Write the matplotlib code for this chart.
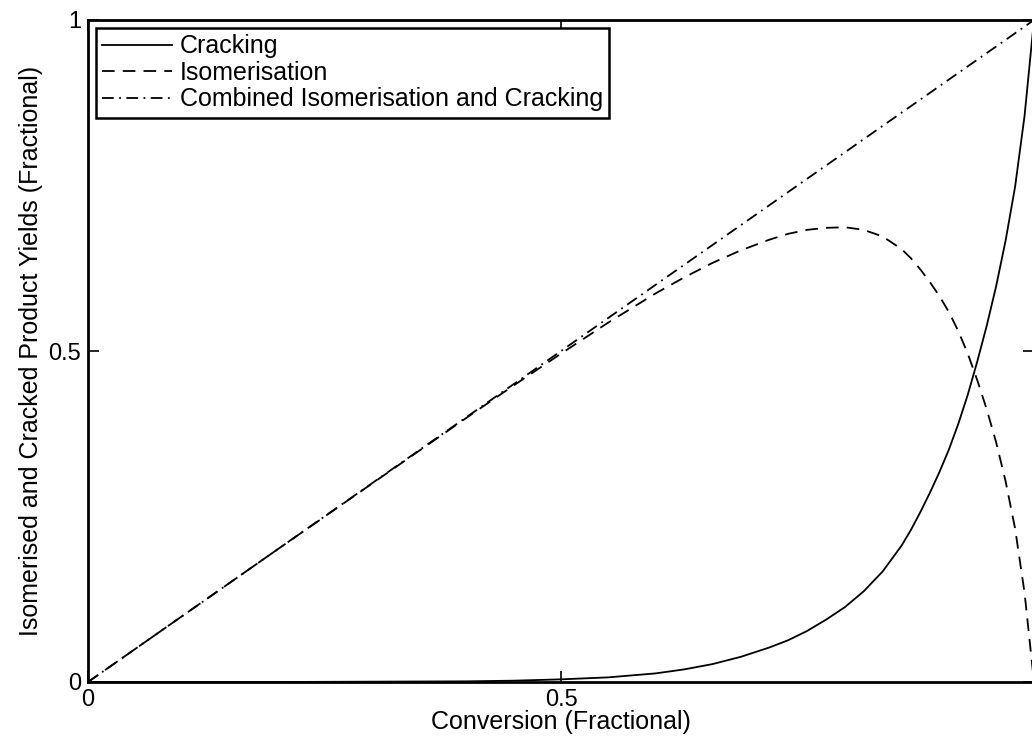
import matplotlib.pyplot as plt

plt.rcParams['font.family'] = ['Liberation Sans', 'DejaVu Sans']

# conversion values and product yields (fractional)
conversion = [0.0, 0.1, 0.2, 0.3, 0.4, 0.45, 0.5, 0.55, 0.6, 0.63, 0.66, 0.69,
              0.72, 0.74, 0.76, 0.78, 0.8, 0.82, 0.84, 0.86, 0.87, 0.88, 0.89,
              0.9, 0.91, 0.92, 0.93, 0.94, 0.95, 0.96, 0.97, 0.98, 0.99, 1.0]
cracking = [0.0, 0.0, 0.0, 0.0005, 0.001, 0.002, 0.004, 0.007, 0.013, 0.019,
            0.027, 0.038, 0.052, 0.063, 0.077, 0.094, 0.113, 0.137, 0.167,
            0.206, 0.23, 0.257, 0.286, 0.317, 0.351, 0.39, 0.434, 0.484,
            0.538, 0.598, 0.667, 0.748, 0.855, 1.0]
isomerisation = [0.0, 0.1, 0.2, 0.2995, 0.399, 0.448, 0.496, 0.543, 0.587,
                 0.611, 0.633, 0.652, 0.668, 0.677, 0.683, 0.686, 0.687,
                 0.683, 0.673, 0.654, 0.64, 0.623, 0.604, 0.583, 0.559, 0.53,
                 0.496, 0.456, 0.412, 0.362, 0.303, 0.232, 0.135, 0.0]
combined = [0.0, 0.1, 0.2, 0.3, 0.4, 0.45, 0.5, 0.55, 0.6, 0.63, 0.66, 0.69,
            0.72, 0.74, 0.76, 0.78, 0.8, 0.82, 0.84, 0.86, 0.87, 0.88, 0.89,
            0.9, 0.91, 0.92, 0.93, 0.94, 0.95, 0.96, 0.97, 0.98, 0.99, 1.0]

fig = plt.figure(figsize=(10.32, 7.38), dpi=100)
ax = fig.add_axes([88 / 1032, 56 / 738, 946 / 1032, 662 / 738])

lw = 1.3
ax.plot(conversion, cracking, color='black', linestyle='-', linewidth=lw,
        label='Cracking')
ax.plot(conversion, isomerisation, color='black', linestyle=(0, (7, 4.5)),
        linewidth=lw, label='Isomerisation')
ax.plot(conversion, combined, color='black', linestyle=(0, (6.5, 3, 1, 3)),
        linewidth=lw, label='Combined Isomerisation and Cracking')

ax.set_xlim(0, 1)
ax.set_ylim(0, 1)
# the x = 1 label falls past the right edge of the figure
ax.set_xticks([0, 0.5, 1])
ax.set_xticklabels(['0', '0.5', ''])
ax.set_yticks([0, 0.5, 1])
ax.set_yticklabels(['0', '0.5', '1'])
ax.tick_params(direction='in', length=8, width=1.2, labelsize=17,
               top=True, right=True, pad=5)
for s in ax.spines.values():
    s.set_linewidth(2)

ax.set_xlabel('Conversion (Fractional)', fontsize=18, labelpad=-1)
ax.set_ylabel('Isomerised and Cracked Product Yields (Fractional)',
              fontsize=18, labelpad=4)

leg = ax.legend(loc='upper left', fontsize=18, frameon=True, fancybox=False,
                handlelength=2.8, handletextpad=0.3, labelspacing=0.1,
                borderpad=0.25, borderaxespad=0.32)
leg.get_frame().set_edgecolor('black')
leg.get_frame().set_linewidth(1.8)
leg.get_frame().set_alpha(1)

fig.savefig('out.png', dpi=100)
